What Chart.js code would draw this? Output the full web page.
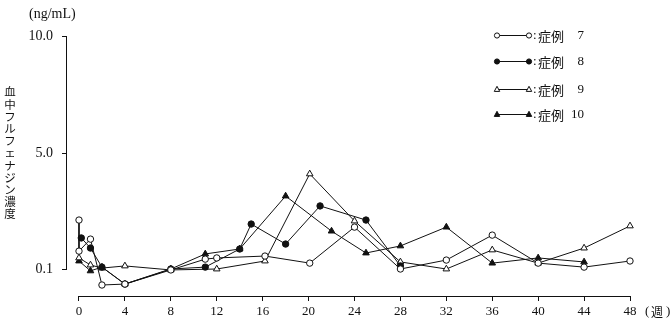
<!DOCTYPE html>
<html><head><meta charset="utf-8">
<script src="https://cdn.jsdelivr.net/npm/chart.js@4/dist/chart.umd.min.js"></script>
<style>html,body{margin:0;padding:0;background:#fff}#wrap{position:relative;width:671px;height:324px}</style>
</head><body><div id="wrap"><canvas id="c" width="671" height="324"></canvas></div>
<script>
// ---- data ----
const weekTicks = [0,4,8,12,16,20,24,28,32,36,40,44,48];
const concTicks = [0.1, 5.0, 10.0];
const seriesNames = ['症例 7','症例 8','症例 9','症例10'];

const weeks7 = [0,0,1,2,4,8,11,12,16.2,20.1,24,28,32,36,40,44,48];
const conc7  = [2.18,0.86,1.37,-0.58,-0.54,0.06,0.52,0.57,0.65,0.35,1.88,0.10,0.48,1.54,0.35,0.18,0.44];

const weeks8 = [0.2,1,2,4,8,11,14,15,18,21,25,28];
const conc8  = [1.42,0.99,0.18,-0.54,0.10,0.18,0.95,2.01,1.16,2.78,2.18,0.23];

const weeks9 = [0,1,2,4,8,12,16.2,20.1,24,28,32,36,40,44,48];
const conc9  = [0.57,0.27,0.14,0.23,0.06,0.10,0.44,4.14,2.14,0.40,0.10,0.91,0.35,0.99,1.93];

const weeks10 = [0,1,2,4,8,11,14,18,22,25,28,32,36,40,44];
const conc10  = [0.44,0.02,0.18,-0.54,0.10,0.74,0.95,3.20,1.71,0.78,1.08,1.88,0.35,0.57,0.40];

// ---- build ----
const toXY = (xs, ys) => xs.map((x, i) => ({x, y: ys[i]}));
const INK = '#111';
const styles = [
  {pointStyle:'circle', fill:'#fff', r:3.2},
  {pointStyle:'circle', fill:INK, r:3.2},
  {pointStyle:'triangle', fill:'#fff', r:3.8},
  {pointStyle:'triangle', fill:INK, r:3.8}
];
const allData = [toXY(weeks7,conc7), toXY(weeks8,conc8), toXY(weeks9,conc9), toXY(weeks10,conc10)];

const datasets = allData.map((d, i) => ({
  label: seriesNames[i],
  data: d,
  borderColor: INK,
  borderWidth: 1,
  pointStyle: styles[i].pointStyle,
  pointRadius: styles[i].r,
  pointBackgroundColor: styles[i].fill,
  pointBorderColor: INK,
  pointBorderWidth: 1,
  tension: 0,
  clip: false
}));

const CJK = "'Noto Sans CJK JP', 'Noto Sans CJK SC', sans-serif";
const SERIF = "'Liberation Serif', 'DejaVu Serif', serif";

const decor = {
  id: 'decor',
  afterDraw(chart) {
    const ctx = chart.ctx;
    const xs = chart.scales.x, ys = chart.scales.y;
    ctx.save();
    ctx.strokeStyle = INK;
    ctx.lineWidth = 1;
    // y axis line
    const yx = Math.round(chart.chartArea.left) - 0.5;
    ctx.beginPath();
    ctx.moveTo(yx, ys.getPixelForValue(concTicks[concTicks.length-1]));
    ctx.lineTo(yx, ys.getPixelForValue(concTicks[0]));
    ctx.stroke();
    // x axis line
    const xy = Math.round(chart.chartArea.bottom) + 0.5;
    ctx.beginPath();
    ctx.moveTo(xs.getPixelForValue(weekTicks[0]), xy);
    ctx.lineTo(xs.getPixelForValue(weekTicks[weekTicks.length-1]), xy);
    ctx.stroke();

    ctx.fillStyle = INK;
    // unit label
    ctx.font = '14px ' + SERIF;
    ctx.textBaseline = 'middle';
    ctx.textAlign = 'left';
    ctx.fillText('(ng/mL)', 29, 14);
    // week label
    ctx.font = '13px ' + SERIF;
    ctx.fillText('(', 645, 312);
    ctx.fillText(')', 666, 312);
    ctx.font = '12px ' + CJK;
    ctx.fillText('週', 651, 312);
    // vertical y title
    const title = '血中フルフェナジン濃度';
    ctx.font = '11.5px ' + CJK;
    ctx.textAlign = 'center';
    for (let i = 0; i < title.length; i++) {
      ctx.fillText(title[i], 10, 92 + i * 12.2);
    }
    // legend
    const rows = [35, 61, 89, 114];
    rows.forEach((y, i) => {
      const st = styles[i];
      ctx.beginPath();
      ctx.moveTo(497, y + 0.5); ctx.lineTo(529, y + 0.5);
      ctx.stroke();
      [497, 529].forEach(px => drawMarker(ctx, st.pointStyle, px, y + 0.5, st.pointStyle==='circle'?2.6:3.2, st.fill));
      ctx.fillStyle = INK;
      ctx.textAlign = 'left';
      ctx.font = '13px ' + SERIF;
      ctx.fillText(':', 533, y + 1);
      ctx.font = '13px ' + CJK;
      ctx.fillText('症例', 538, y + 1);
      const num = seriesNames[i].replace('症例','').trim();
      ctx.font = '13px ' + SERIF;
      ctx.textAlign = 'right';
      ctx.fillText(num, 584, y + 1);
    });
    ctx.restore();
  }
};
function drawMarker(ctx, style, x, y, r, fill) {
  ctx.beginPath();
  if (style === 'circle') {
    ctx.arc(x, y, r, 0, Math.PI * 2);
  } else {
    const w = r * 1.7;
    ctx.moveTo(x, y - r);
    ctx.lineTo(x + w/2, y + r*0.6);
    ctx.lineTo(x - w/2, y + r*0.6);
    ctx.closePath();
  }
  ctx.fillStyle = fill;
  ctx.fill();
  ctx.strokeStyle = INK;
  ctx.stroke();
}

new Chart(document.getElementById('c'), {
  type: 'line',
  data: { datasets },
  options: {
    responsive: false,
    animation: false,
    devicePixelRatio: 1,
    layout: { padding: { top: 36, right: 41, left: 0, bottom: 0 } },
    plugins: { legend: { display: false }, tooltip: { enabled: false } },
    scales: {
      x: {
        type: 'linear',
        min: -1.045, max: 48,
        afterFit: s => { s.height = 28; },
        afterBuildTicks: s => { s.ticks = weekTicks.map(v => ({value: v})); },
        border: { display: false },
        grid: { display: true, drawOnChartArea: false, drawTicks: true, tickLength: 5, color: INK, lineWidth: 1 },
        ticks: { color: INK, padding: 3, font: { family: SERIF, size: 13 }, maxRotation: 0, callback: v => String(v) }
      },
      y: {
        type: 'linear',
        min: -1.047, max: 10,
        afterFit: s => { s.width = 67; },
        afterBuildTicks: s => { s.ticks = concTicks.map(v => ({value: v})); },
        border: { display: false },
        grid: { display: true, drawOnChartArea: false, drawTicks: true, tickLength: 5, color: INK, lineWidth: 1 },
        ticks: { color: INK, padding: 9, font: { family: SERIF, size: 14 }, callback: v => Number(v).toFixed(1) }
      }
    }
  },
  plugins: [decor]
});
</script></body></html>
